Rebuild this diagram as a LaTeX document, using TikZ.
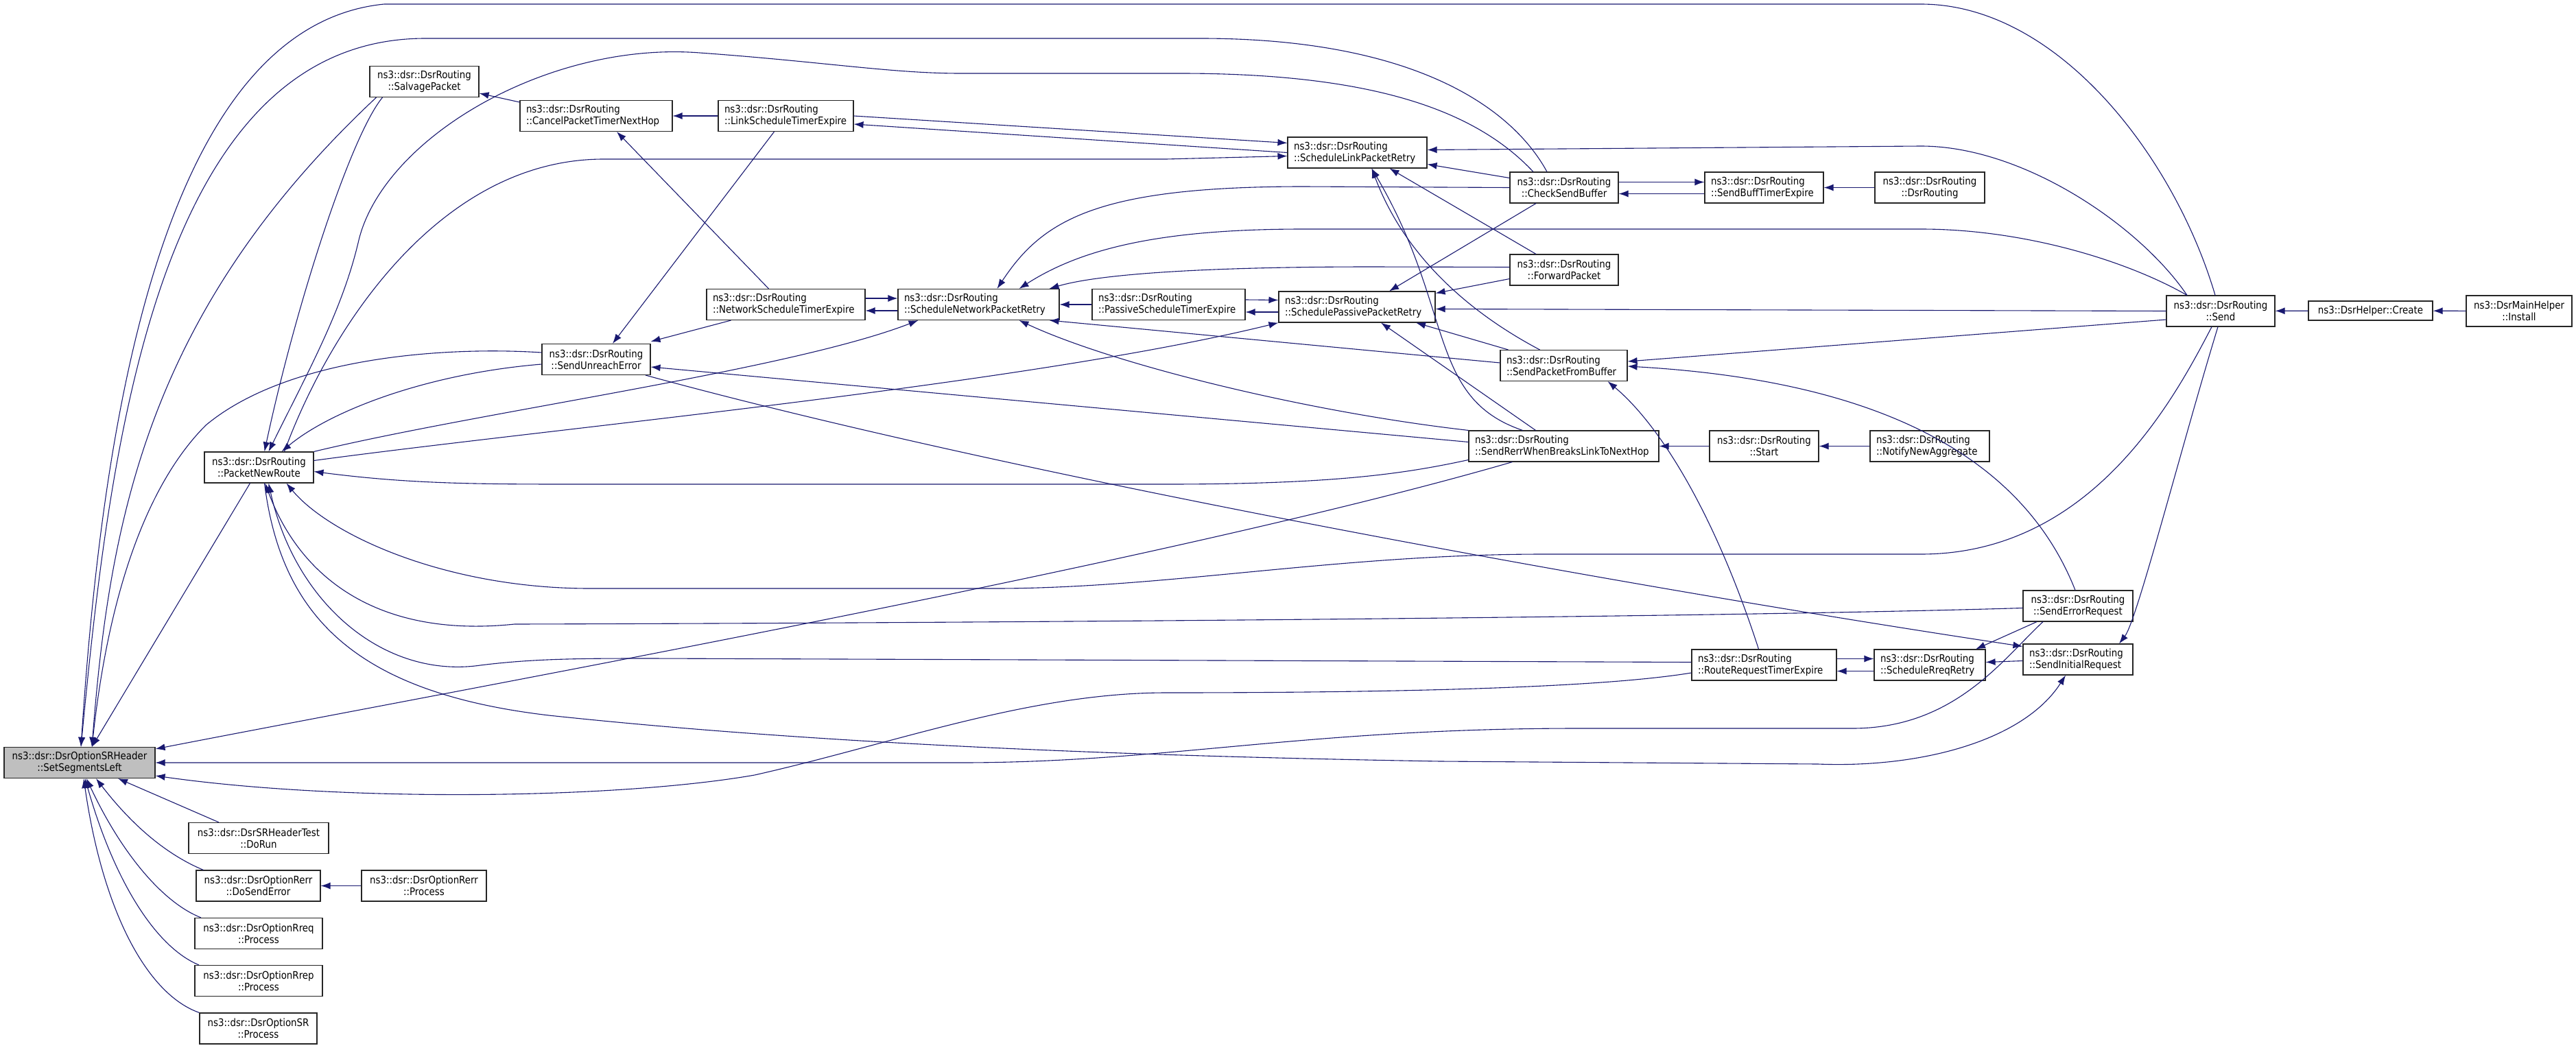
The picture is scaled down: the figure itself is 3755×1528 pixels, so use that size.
\documentclass[tikz,border=0pt]{standalone}
\usepackage{fontspec}
\setmainfont{DejaVu Sans}[FakeStretch=0.88]
\usetikzlibrary{arrows.meta}
\definecolor{edgeblue}{HTML}{191970}
\definecolor{rootgray}{HTML}{BFBFBF}
\begin{document}
\begin{tikzpicture}[x=1pt, y=-1pt, >={Latex[length=14pt,width=10pt]},
  box/.style={draw=black!85, line width=1.1pt, fill=white, minimum height=45pt, inner xsep=9pt, inner ysep=2pt, font=\fontsize{15.2}{17}\selectfont},
  fn/.style={box, align=center, minimum width=#1},
  fnl/.style={box, align=left, text width=#1},
  call/.style={<-, draw=edgeblue, line width=1.1pt}]
\useasboundingbox (0,0) rectangle (3755,1528);
\node[fn=220pt, fill=rootgray] (ssl) at (116,1112) {ns3::dsr::DsrOptionSRHeader\\::SetSegmentsLeft};
\node[fn=159pt] (salvage) at (618.5,119) {ns3::dsr::DsrRouting\\::SalvagePacket};
\node[fnl=204pt] (cancel) at (869,169) {ns3::dsr::DsrRouting\\::CancelPacketTimerNextHop};
\node[fnl=179pt] (linkexp) at (1145.5,169) {ns3::dsr::DsrRouting\\::LinkScheduleTimerExpire};
\node[fnl=185pt] (linkretry) at (1978.5,222.5) {ns3::dsr::DsrRouting\\::ScheduleLinkPacketRetry};
\node[fn=158pt] (checkbuf) at (2280,273.5) {ns3::dsr::DsrRouting\\::CheckSendBuffer};
\node[fnl=155pt] (bufexp) at (2571.5,273.5) {ns3::dsr::DsrRouting\\::SendBuffTimerExpire};
\node[fn=160pt] (ctor) at (2813,273.5) {ns3::dsr::DsrRouting\\::DsrRouting};
\node[fn=158pt] (forward) at (2280,393.5) {ns3::dsr::DsrRouting\\::ForwardPacket};
\node[fnl=213pt] (netexp) at (1145.5,444) {ns3::dsr::DsrRouting\\::NetworkScheduleTimerExpire};
\node[fnl=217pt] (netretry) at (1426.5,444) {ns3::dsr::DsrRouting\\::ScheduleNetworkPacketRetry};
\node[fnl=205pt] (passexp) at (1703.5,444) {ns3::dsr::DsrRouting\\::PassiveScheduleTimerExpire};
\node[fnl=210pt] (passretry) at (1978,447.5) {ns3::dsr::DsrRouting\\::SchedulePassivePacketRetry};
\node[fn=158pt] (unreach) at (869,524) {ns3::dsr::DsrRouting\\::SendUnreachError};
\node[fnl=167pt] (frombuf) at (2279.5,533) {ns3::dsr::DsrRouting\\::SendPacketFromBuffer};
\node[fnl=259pt] (rerrlink) at (2279.5,650.5) {ns3::dsr::DsrRouting\\::SendRerrWhenBreaksLinkToNextHop};
\node[fn=159pt] (start) at (2571.5,650.5) {ns3::dsr::DsrRouting\\::Start};
\node[fnl=156pt] (notify) at (2813,650.5) {ns3::dsr::DsrRouting\\::NotifyNewAggregate};
\node[fn=159pt] (newroute) at (377.5,681.5) {ns3::dsr::DsrRouting\\::PacketNewRoute};
\node[fn=158pt] (send) at (3237,453.5) {ns3::dsr::DsrRouting\\::Send};
\node[fn=181pt, minimum height=28pt] (create) at (3455.5,453) {ns3::DsrHelper::Create};
\node[fn=154pt] (install) at (3672,453.5) {ns3::DsrMainHelper\\::Install};
\node[fn=160pt] (errreq) at (3029,883.5) {ns3::dsr::DsrRouting\\::SendErrorRequest};
\node[fnl=142pt] (initreq) at (3029,961.5) {ns3::dsr::DsrRouting\\::SendInitialRequest};
\node[fnl=193pt] (rreqexp) at (2571.5,969.5) {ns3::dsr::DsrRouting\\::RouteRequestTimerExpire};
\node[fnl=144pt] (rreqretry) at (2813,969.5) {ns3::dsr::DsrRouting\\::ScheduleRreqRetry};
\node[fn=204pt] (dorun) at (377,1222) {ns3::dsr::DsrSRHeaderTest\\::DoRun};
\node[fn=181pt] (dosenderr) at (376.5,1291.5) {ns3::dsr::DsrOptionRerr\\::DoSendError};
\node[fn=182pt] (rerrproc) at (618,1291.5) {ns3::dsr::DsrOptionRerr\\::Process};
\node[fn=186pt] (rreqproc) at (377,1361) {ns3::dsr::DsrOptionRreq\\::Process};
\node[fn=186pt] (rrepproc) at (377,1430) {ns3::dsr::DsrOptionRrep\\::Process};
\node[fn=171pt] (srproc) at (376.5,1499.5) {ns3::dsr::DsrOptionSR\\::Process};
% callers of SetSegmentsLeft
\draw[call] ([xshift=2pt]ssl.north) .. controls (145,680) and (220,40) .. (560,6) -- (2800,6) .. controls (3000,6) and (3170,230) .. ([xshift=-8pt]send.north);
\draw[call] ([xshift=2pt]ssl.north) .. controls (160,650) and (230,56) .. (620,56) -- (1750,56) .. controls (2050,56) and (2200,150) .. ([xshift=-25pt]checkbuf.north);
\draw[call] ([xshift=18pt]ssl.north) .. controls (160,750) and (220,450) .. ([xshift=-70pt]salvage.south);
\draw[call] ([xshift=18pt]ssl.north) .. controls (160,850) and (220,700) .. (300,620) .. controls (420,520) and (650,505) .. ([yshift=10pt]unreach.west);
\draw[call] ([xshift=18pt]ssl.north) -- ([xshift=-13pt]newroute.south);
\draw[call] ([yshift=20pt]ssl.east) .. controls (700,1000) and (1700,820) .. ([xshift=-75pt]rerrlink.south);
\draw[call] (ssl.east) -- (1400,1112) .. controls (1700,1112) and (1900,1062) .. (2300,1062) -- (2700,1062) .. controls (2850,1062) and (2920,960) .. ([xshift=-51pt]errreq.south);
\draw[call] ([yshift=-19pt]ssl.east) .. controls (500,1170) and (900,1165) .. (1100,1130) .. controls (1300,1085) and (1500,1010) .. (1700,1010) .. controls (2100,1010) and (2350,1000) .. ([yshift=-11.5pt]rreqexp.west);
\draw[call] ([xshift=56pt]ssl.south) -- ([xshift=-58pt]dorun.north);
\draw[call] ([xshift=24pt]ssl.south) .. controls (190,1200) and (240,1245) .. ([xshift=-80pt]dosenderr.north);
\draw[call] ([xshift=10pt]ssl.south) .. controls (175,1240) and (235,1315) .. ([xshift=-84pt]rreqproc.north);
\draw[call] ([xshift=8pt]ssl.south) .. controls (165,1280) and (225,1380) .. ([xshift=-87pt]rrepproc.north);
\draw[call] ([xshift=6pt]ssl.south) .. controls (150,1330) and (215,1450) .. ([xshift=-86pt]srproc.north);
\draw[call] (dosenderr) -- (rerrproc);
% timers and retries
\draw[call] ([yshift=-17pt]salvage.east) -- ([yshift=20pt]cancel.west);
\draw[call] (cancel) -- (linkexp);
\draw[call] ([xshift=30pt]cancel.south) -- ([xshift=-25pt]netexp.north);
\draw[call] ([yshift=-12pt]linkexp.east) -- (linkretry.west);
\draw[call] ([yshift=14pt]linkretry.west) -- (linkexp.east);
\draw[call] ([xshift=24pt]unreach.north) -- ([xshift=-17pt]linkexp.south);
\draw[call] ([yshift=26pt]unreach.east) -- ([xshift=-80pt]netexp.south);
\draw[call] ([yshift=9pt]netretry.west) -- ([yshift=9pt]netexp.east);
\draw[call] ([yshift=-9pt]netexp.east) -- ([yshift=-9pt]netretry.west);
\draw[call] (netretry) -- (passexp);
\draw[call] ([yshift=10pt]passretry.west) -- ([yshift=7pt]passexp.east);
\draw[call] ([yshift=-11pt]passexp.east) -- ([yshift=-7.5pt]passretry.west);
% PacketNewRoute
\draw[call] ([xshift=8pt]newroute.north) .. controls (430,450) and (510,200) .. ([xshift=-61pt]salvage.south);
\draw[call] ([xshift=14pt]newroute.north) .. controls (450,540) and (500,450) .. (523,350) .. controls (560,200) and (800,60) .. (1020,77) .. controls (1200,90) and (1300,107) .. (1400,107) -- (1720,107) .. controls (2000,107) and (2150,160) .. ([xshift=-45pt]checkbuf.north);
\draw[call] ([xshift=33pt]newroute.north) .. controls (480,600) and (620,545) .. ([yshift=-7pt]unreach.west);
\draw[call] ([yshift=-5pt]linkretry.west) -- (1700,232) -- (880,232) .. controls (640,232) and (480,480) .. ([xshift=37pt]newroute.north);
\draw[call] ([xshift=-88pt]netretry.south) .. controls (1150,540) and (700,600) .. (newroute.north east);
\draw[call] (passretry.south west) .. controls (1500,560) and (800,625) .. ([yshift=10pt]newroute.east);
\draw[call] ([xshift=-18pt]initreq.south) .. controls (2950,1080) and (2800,1120) .. (2650,1114) -- (2100,1110) .. controls (1500,1100) and (1100,1075) .. (800,1043) .. controls (520,1010) and (410,900) .. ([xshift=8pt]newroute.south);
\draw[call] ([xshift=9pt]newroute.south) .. controls (440,850) and (560,930) .. (750,910) .. controls (1500,908) and (2500,900) .. ([yshift=-3pt]errreq.west);
\draw[call] ([xshift=14pt]newroute.south) .. controls (430,880) and (560,990) .. (700,970) .. controls (780,960) and (850,960) .. (950,960) -- ([yshift=4pt]rreqexp.west);
\draw[call] ([xshift=40pt]newroute.south) .. controls (480,780) and (650,858) .. (860,858) -- (1450,858) .. controls (1700,858) and (1950,808) .. (2250,808) -- (2800,808) .. controls (3050,808) and (3170,580) .. ([xshift=-13pt]send.south);
\draw[call] ([yshift=-6pt]newroute.east) .. controls (600,706) and (700,706) .. (850,706) -- (1700,706) .. controls (1950,706) and (2050,690) .. ([yshift=-20pt]rerrlink.west);
\draw[call] ([yshift=-11pt]unreach.east) -- ([yshift=6pt]rerrlink.west);
\draw[call] ([yshift=19pt]initreq.west) .. controls (2400,860) and (1500,700) .. ([xshift=72pt]unreach.south);
% ScheduleLinkPacketRetry, ScheduleNetworkPacketRetry, SchedulePassivePacketRetry
\draw[call] ([yshift=4pt]linkretry.east) -- (2800,213) .. controls (2950,213) and (3120,330) .. ([xshift=-49pt]send.north);
\draw[call] ([yshift=-17pt]linkretry.east) -- ([yshift=14pt]checkbuf.west);
\draw[call] ([xshift=47pt]linkretry.south) -- ([xshift=-41pt]forward.north);
\draw[call] ([xshift=21pt]linkretry.south) .. controls (2050,380) and (2150,460) .. ([xshift=-35pt]frombuf.north);
\draw[call] ([xshift=21pt]linkretry.south) .. controls (2120,450) and (2080,580) .. ([xshift=-60pt]rerrlink.north);
\draw[call] ([xshift=27pt]netretry.north) .. controls (1520,320) and (1600,272) .. (1900,272) -- (checkbuf.west);
\draw[call] ([xshift=59pt]netretry.north) .. controls (1580,360) and (1700,334) .. (1900,334) -- (2800,334) .. controls (2950,334) and (3100,380) .. ([xshift=-49pt]send.north);
\draw[call] ([xshift=103pt]netretry.north) .. controls (1600,400) and (1750,389) .. (2000,389) -- ([yshift=4pt]forward.west);
\draw[call] ([xshift=103pt]netretry.south) -- ([yshift=4pt]frombuf.west);
\draw[call] ([xshift=59pt]netretry.south) .. controls (1620,530) and (1900,600) .. (rerrlink.north west);
\draw[call] ([xshift=47pt]passretry.north) -- ([xshift=-41pt]checkbuf.south);
\draw[call] ([yshift=20pt]passretry.east) -- ([yshift=-13pt]forward.west);
\draw[call] ([yshift=-3pt]passretry.east) -- (send.west);
\draw[call] ([xshift=86pt]passretry.south) -- ([xshift=-81pt]frombuf.north);
\draw[call] ([xshift=35pt]passretry.south) -- ([xshift=-41pt]rerrlink.north);
% send buffer
\draw[call] ([yshift=8pt]bufexp.west) -- ([yshift=8pt]checkbuf.east);
\draw[call] ([yshift=-9pt]checkbuf.east) -- ([yshift=-9pt]bufexp.west);
\draw[call] (bufexp) -- (ctor);
\draw[call] ([yshift=6pt]frombuf.east) -- ([yshift=-12.5pt]send.west);
\draw[call] ([yshift=-1pt]frombuf.east) .. controls (2650,550) and (2930,620) .. ([xshift=-4pt]errreq.north);
\draw[call] ([xshift=64pt]frombuf.south) .. controls (2420,620) and (2500,750) .. ([xshift=-8pt]rreqexp.north);
\draw[call] (rerrlink) -- (start);
\draw[call] (start) -- (notify);
\draw[call] (send) -- (create);
\draw[call] (create) -- (install);
% route requests
\draw[call] ([xshift=60pt]initreq.north) .. controls (3115,905) and (3180,650) .. ([xshift=-4pt]send.south);
\draw[call] ([yshift=9pt]rreqretry.west) -- ([yshift=9pt]rreqexp.east);
\draw[call] ([yshift=-9pt]rreqexp.east) -- ([yshift=-9pt]rreqretry.west);
\draw[call] ([xshift=67pt]rreqretry.north) -- ([xshift=-60pt]errreq.south);
\draw[call] ([yshift=4pt]rreqretry.east) -- ([yshift=-2pt]initreq.west);
\end{tikzpicture}
\end{document}
